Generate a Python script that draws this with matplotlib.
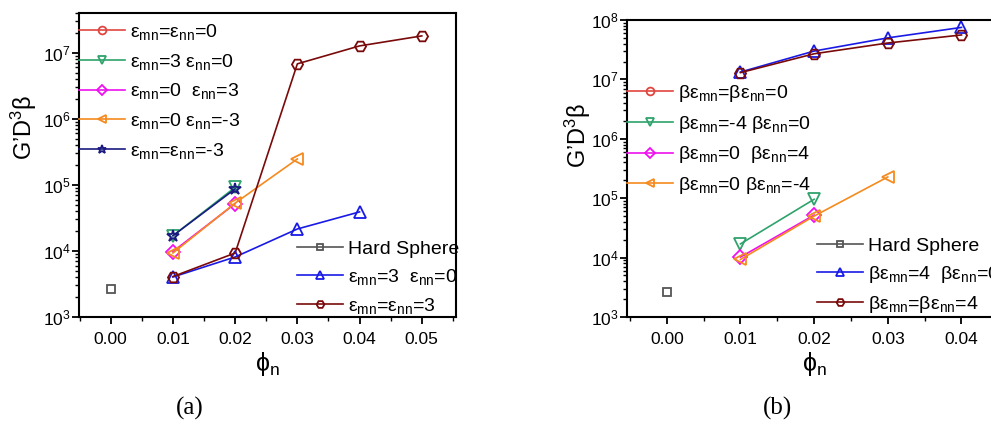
import matplotlib
matplotlib.use("Agg")
import matplotlib.pyplot as plt
from matplotlib.ticker import LogLocator, NullFormatter, MultipleLocator, FixedLocator

plt.rcParams['font.family'] = ['Liberation Sans', 'DejaVu Sans']
plt.rcParams['mathtext.fontset'] = 'custom'
plt.rcParams['mathtext.rm'] = 'Liberation Sans'
plt.rcParams['mathtext.it'] = 'Liberation Sans'
plt.rcParams['mathtext.default'] = 'regular'

# ---------------- data panel (a) ----------------
a_hs_x = [0.0]
a_hs_y = [2650]
a_e00_x = []
a_e00_y = []
a_m3n0g_x = [0.01, 0.02]
a_m3n0g_y = [17000, 92000]
a_m0n3_x = [0.01, 0.02]
a_m0n3_y = [9800, 52000]
a_m0nm3_x = [0.01, 0.02, 0.03]
a_m0nm3_y = [9300, 53000, 247000]
a_mm3_x = [0.01, 0.02]
a_mm3_y = [17000, 87000]
a_m3n0b_x = [0.01, 0.02, 0.03, 0.04]
a_m3n0b_y = [4030, 8100, 21500, 39000]
a_e33_x = [0.01, 0.02, 0.03, 0.04, 0.05]
a_e33_y = [4100, 9300, 6.8e6, 1.27e7, 1.8e7]

# ---------------- data panel (b) ----------------
b_hs_x = [0.0]
b_hs_y = [2600]
b_e00_x = []
b_e00_y = []
b_mm4n0_x = [0.01, 0.02]
b_mm4n0_y = [17000, 96000]
b_m0n4_x = [0.01, 0.02]
b_m0n4_y = [10200, 52000]
b_m0nm4_x = [0.01, 0.02, 0.03]
b_m0nm4_y = [9300, 50000, 228000]
b_m4n0_x = [0.01, 0.02, 0.03, 0.04]
b_m4n0_y = [1.33e7, 3.0e7, 5.0e7, 7.5e7]
b_e44_x = [0.01, 0.02, 0.03, 0.04]
b_e44_y = [1.3e7, 2.7e7, 4.1e7, 5.6e7]

a_labels_top = ["ε$_{mn}$=ε$_{nn}$=0", "ε$_{mn}$=3 ε$_{nn}$=0", "ε$_{mn}$=0  ε$_{nn}$=3",
                "ε$_{mn}$=0 ε$_{nn}$=-3", "ε$_{mn}$=ε$_{nn}$=-3"]
a_labels_bot = ["Hard Sphere", "ε$_{mn}$=3  ε$_{nn}$=0", "ε$_{mn}$=ε$_{nn}$=3"]
b_labels_top = ["βε$_{mn}$=βε$_{nn}$=0", "βε$_{mn}$=-4 βε$_{nn}$=0", "βε$_{mn}$=0  βε$_{nn}$=4",
                "βε$_{mn}$=0 βε$_{nn}$=-4"]
b_labels_bot = ["Hard Sphere", "βε$_{mn}$=4  βε$_{nn}$=0", "βε$_{mn}$=βε$_{nn}$=4"]

x_ticks_a = [0.00, 0.01, 0.02, 0.03, 0.04, 0.05]
x_ticks_b = [0.00, 0.01, 0.02, 0.03, 0.04]

C_RED = '#e0463f'
C_GREEN = '#2ea36b'
C_MAG = '#ee10ee'
C_ORANGE = '#f58a1f'
C_NAVY = '#1a1a80'
C_GRAY = '#555555'
C_BLUE = '#1a1ae6'
C_DRED = '#7a0a0a'

W, H = 991, 425
fig = plt.figure(figsize=(W / 100, H / 100), dpi=100)

def px_axes(l, t, r, b):
    return fig.add_axes([l / W, 1 - b / H, (r - l) / W, (b - t) / H])

ax_a = px_axes(79, 13, 456, 317)
ax_b = px_axes(627, 20, 1002, 317)

mk = dict(mfc='none', mew=1.3, ms=8, lw=1.2)

def style(ax, xt, xl, yl):
    ax.set_yscale('log')
    ax.set_xlim(*xl)
    ax.set_ylim(*yl)
    ax.xaxis.set_major_locator(FixedLocator(xt))
    ax.xaxis.set_minor_locator(MultipleLocator(0.005))
    ax.set_xticklabels([f"{v:.2f}" for v in xt])
    ax.yaxis.set_major_locator(LogLocator(base=10, numticks=20))
    ax.yaxis.set_minor_locator(LogLocator(base=10, subs=range(2, 10), numticks=20))
    ax.yaxis.set_minor_formatter(NullFormatter())
    ax.tick_params(axis='both', which='major', labelsize=12.5, width=1.3, length=5, direction='out')
    ax.tick_params(axis='x', which='major', pad=6)
    ax.tick_params(axis='y', which='major', pad=1)
    ax.tick_params(axis='both', which='minor', width=1.0, length=3, direction='out')
    for s in ax.spines.values():
        s.set_linewidth(1.5)

LEG = dict(frameon=False, fontsize=14, handlelength=2.35, handletextpad=0.26,
           borderpad=0, borderaxespad=0, markerscale=0.7, loc='upper left')

# ---- panel (a)
l0, = ax_a.plot(a_e00_x, a_e00_y, marker='o', color=C_RED, mec=C_RED, **mk)
l1, = ax_a.plot(a_m3n0g_x, a_m3n0g_y, marker='v', color=C_GREEN, mec=C_GREEN, **mk)
l2, = ax_a.plot(a_m0n3_x, a_m0n3_y, marker='D', color=C_MAG, mec=C_MAG, **{**mk, 'ms': 7})
l3, = ax_a.plot(a_m0nm3_x, a_m0nm3_y, marker='<', color=C_ORANGE, mec=C_ORANGE, **mk)
l4, = ax_a.plot(a_mm3_x, a_mm3_y, marker='*', color=C_NAVY, mec=C_NAVY, **{**mk, 'ms': 9})
l5, = ax_a.plot(a_hs_x, a_hs_y, marker='s', color=C_GRAY, mec=C_GRAY, **{**mk, 'ms': 6})
l6, = ax_a.plot(a_m3n0b_x, a_m3n0b_y, marker='^', color=C_BLUE, mec=C_BLUE, **mk)
l7, = ax_a.plot(a_e33_x, a_e33_y, marker='H', color=C_DRED, mec=C_DRED, **mk)
style(ax_a, x_ticks_a, (-0.0051, 0.0555), (1e3, 4e7))

leg = ax_a.legend([l0, l1, l2, l3, l4], a_labels_top,
                  bbox_to_anchor=(79 / W, 1 - 22 / H), bbox_transform=fig.transFigure,
                  labelspacing=0.5, **LEG)
ax_a.add_artist(leg)
ax_a.legend([l5, l6, l7], a_labels_bot,
            bbox_to_anchor=(297 / W, 1 - 240 / H), bbox_transform=fig.transFigure,
            labelspacing=0.47, **LEG)

# ---- panel (b)
m0, = ax_b.plot(b_e00_x, b_e00_y, marker='o', color=C_RED, mec=C_RED, **mk)
m1, = ax_b.plot(b_mm4n0_x, b_mm4n0_y, marker='v', color=C_GREEN, mec=C_GREEN, **mk)
m2, = ax_b.plot(b_m0n4_x, b_m0n4_y, marker='D', color=C_MAG, mec=C_MAG, **{**mk, 'ms': 7})
m3, = ax_b.plot(b_m0nm4_x, b_m0nm4_y, marker='<', color=C_ORANGE, mec=C_ORANGE, **mk)
m5, = ax_b.plot(b_hs_x, b_hs_y, marker='s', color=C_GRAY, mec=C_GRAY, **{**mk, 'ms': 6})
m6, = ax_b.plot(b_m4n0_x, b_m4n0_y, marker='^', color=C_BLUE, mec=C_BLUE, **mk)
m7, = ax_b.plot(b_e44_x, b_e44_y, marker='H', color=C_DRED, mec=C_DRED, **mk)
style(ax_b, x_ticks_b, (-0.0054, 0.0455), (1e3, 1e8))

leg = ax_b.legend([m0, m1, m2, m3], b_labels_top,
                  bbox_to_anchor=(627 / W, 1 - 83 / H), bbox_transform=fig.transFigure,
                  labelspacing=0.5, **LEG)
ax_b.add_artist(leg)
ax_b.legend([m5, m6, m7], b_labels_bot,
            bbox_to_anchor=(817 / W, 1 - 237 / H), bbox_transform=fig.transFigure,
            labelspacing=0.47, **LEG)

# ---- labels
for ax in (ax_a, ax_b):
    ax.set_ylabel("G\u2019D$^{3}$β", fontsize=17)
    ax.set_xlabel("ϕ$_{n}$", fontsize=18, labelpad=2)
ax_a.yaxis.set_label_coords(-0.106, 0.625)
ax_b.yaxis.set_label_coords(-0.091, 0.613)

fig.text(190 / W, 1 - 408 / H, "(a)", fontsize=18, family='Liberation Serif', ha='center', va='center')
fig.text(777 / W, 1 - 408 / H, "(b)", fontsize=18, family='Liberation Serif', ha='center', va='center')

fig.savefig("out.png", dpi=100)
